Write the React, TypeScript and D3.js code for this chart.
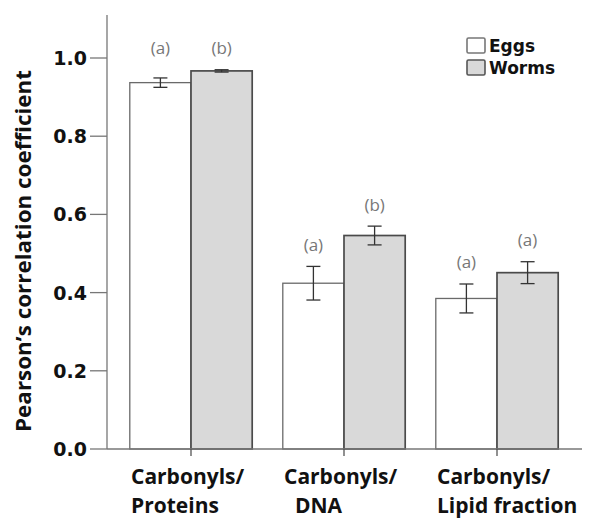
import { useMemo } from "react";
import * as d3 from "d3";

// values
const categories = ["proteins", "dna", "lipid"];
const categoryLines = [
  ["Carbonyls/", "Proteins"],
  ["Carbonyls/", "\u00a0\u00a0DNA"],
  ["Carbonyls/", "Lipid fraction"],
];
const seriesNames = ["Eggs", "Worms"];
const eggMeans = [0.937, 0.424, 0.385];
const eggErrors = [0.012, 0.043, 0.037];
const wormMeans = [0.967, 0.546, 0.451];
const wormErrors = [0.003, 0.024, 0.028];
const eggLetters = ["(a)", "(a)", "(a)"];
const wormLetters = ["(b)", "(b)", "(a)"];
const yTicks = [0, 0.2, 0.4, 0.6, 0.8, 1.0];

const fills = ["#ffffff", "#d9d9d9"];
const strokes = ["#6a6a6a", "#4a4a4a"];

const width = 590;
const height = 519;

function App() {
  const x = useMemo(
    () =>
      d3.scaleBand<string>()
        .domain(categories)
        .range([114.5, 573.5])
        .paddingInner(0.2)
        .paddingOuter(0.1),
    []
  );
  const xSub = useMemo(
    () => d3.scaleBand<string>().domain(seriesNames).range([0, x.bandwidth()]),
    [x]
  );
  const y = useMemo(() => d3.scaleLinear().domain([0, 1]).range([449, 58]), []);

  const series = [
    { name: "Eggs", means: eggMeans, errors: eggErrors, letters: eggLetters },
    { name: "Worms", means: wormMeans, errors: wormErrors, letters: wormLetters },
  ];

  const axisX = 107;
  const axisRight = 582;
  const y0 = y(0);

  return (
    <svg
      width={width}
      height={height}
      style={{ position: "absolute", left: 0, top: 0, background: "#fff" }}
    >
      <rect width={width} height={height} fill="#fff" />

      {/* bars */}
      {series.map((s, si) =>
        categories.map((c, ci) => {
          const bx = (x(c) ?? 0) + (xSub(s.name) ?? 0);
          const bw = xSub.bandwidth();
          const top = y(s.means[ci]);
          return (
            <rect
              key={s.name + c}
              x={bx}
              y={top}
              width={bw}
              height={y0 - top}
              fill={fills[si]}
              stroke={strokes[si]}
              strokeWidth={si === 0 ? 1.3 : 1.7}
            />
          );
        })
      )}

      {/* error bars and letters */}
      {series.map((s, si) =>
        categories.map((c, ci) => {
          const cx = (x(c) ?? 0) + (xSub(s.name) ?? 0) + xSub.bandwidth() / 2;
          const hi = y(s.means[ci] + s.errors[ci]);
          const lo = y(s.means[ci] - s.errors[ci]);
          return (
            <g key={"e" + s.name + c} stroke="#333" strokeWidth={1.3}>
              <line x1={cx} x2={cx} y1={hi} y2={lo} />
              <line x1={cx - 7} x2={cx + 7} y1={hi} y2={hi} />
              <line x1={cx - 7} x2={cx + 7} y1={lo} y2={lo} />
              <text
                x={cx}
                y={ci === 0 ? 47 : hi - 22}
                stroke="none"
                fill="#777"
                fontFamily="'Open Sans', sans-serif"
                fontSize={17}
                textAnchor="middle"
                dominantBaseline="central"
              >
                {s.letters[ci]}
              </text>
            </g>
          );
        })
      )}

      {/* y axis */}
      <line x1={axisX} x2={axisX} y1={y(1.11)} y2={y0} stroke="#777" strokeWidth={1.3} />
      {yTicks.map((t) => (
        <g key={t}>
          <line x1={axisX - 17} x2={axisX} y1={y(t)} y2={y(t)} stroke="#777" strokeWidth={1.3} />
          <text
            x={87}
            y={y(t)}
            textAnchor="end"
            dominantBaseline="central"
            fontFamily="'DejaVu Sans', sans-serif"
            fontWeight="bold"
            fontSize={19}
            fill="#111"
          >
            {t.toFixed(1)}
          </text>
        </g>
      ))}
      <text
        transform={`translate(31, 251) rotate(-90)`}
        textAnchor="middle"
        fontFamily="'Open Sans', sans-serif"
        fontWeight="bold"
        fontSize={21}
        fill="#111"
        textLength={362}
        lengthAdjust="spacingAndGlyphs"
      >
        Pearson’s correlation coefficient
      </text>

      {/* x axis */}
      <line x1={axisX} x2={axisRight} y1={y0} y2={y0} stroke="#777" strokeWidth={1.3} />
      {categories.map((c, ci) => {
        const cx = (x(c) ?? 0) + x.bandwidth() / 2;
        return (
          <g key={c}>
            <line x1={cx} x2={cx} y1={y0} y2={y0 + 7} stroke="#555" strokeWidth={1.3} />
            {categoryLines[ci].map((line, li) => (
              <text
                key={li}
                x={cx - 60}
                y={484 + li * 29}
                fontFamily="'Open Sans', sans-serif"
                fontWeight="bold"
                fontSize={21}
                fill="#111"
                style={{ whiteSpace: "pre" }}
              >
                {line}
              </text>
            ))}
          </g>
        );
      })}

      {/* legend */}
      {seriesNames.map((n, i) => (
        <g key={n} transform={`translate(467, ${38 + i * 22})`}>
          <rect
            width={18}
            height={15}
            rx={1.5}
            fill={fills[i]}
            stroke={i === 0 ? "#777" : "#555"}
            strokeWidth={1.6}
          />
          <text
            x={22}
            y={8}
            dominantBaseline="central"
            fontFamily="'DejaVu Sans', sans-serif"
            fontWeight="bold"
            fontSize={17}
            fill="#111"
          >
            {n}
          </text>
        </g>
      ))}
    </svg>
  );
}

export default App;
